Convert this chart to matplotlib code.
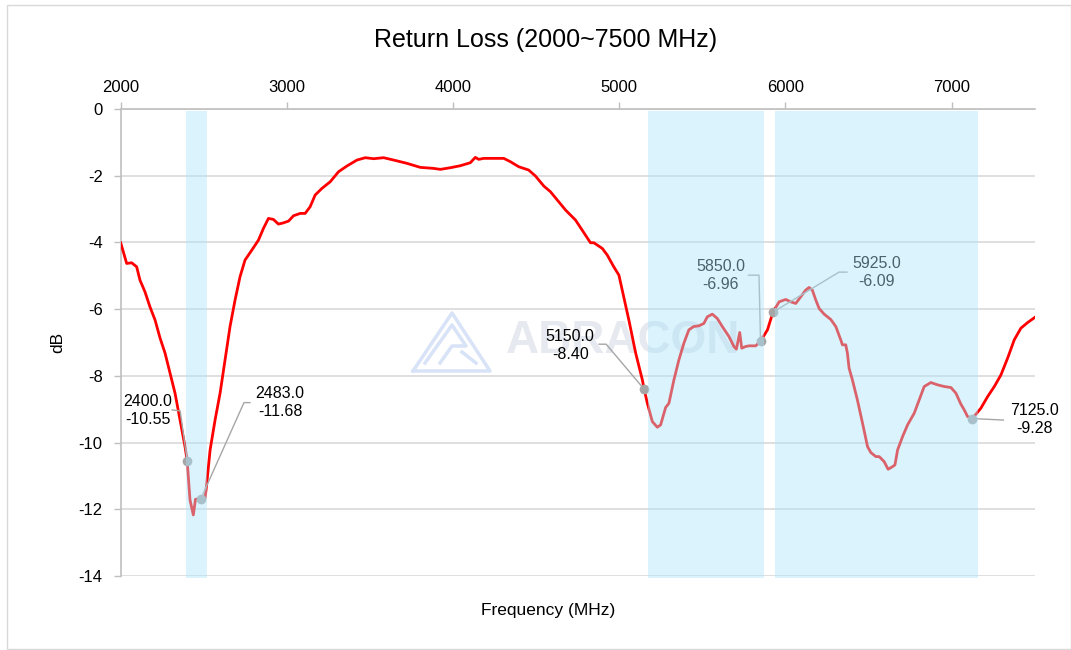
import matplotlib
matplotlib.use('Agg')
import matplotlib.pyplot as plt
from matplotlib.lines import Line2D
from matplotlib.patches import Rectangle
from matplotlib.transforms import IdentityTransform

plt.rcParams['font.family'] = ['Liberation Sans', 'DejaVu Sans']

# ---------------- data ----------------
freq_mhz = [2000, 2036, 2066, 2096, 2116, 2146, 2176, 2207, 2237, 2267, 2297, 2327,
            2357, 2387, 2400, 2417, 2437, 2450, 2483, 2508, 2518, 2538, 2568, 2598,
            2628, 2658, 2688, 2718, 2748, 2789, 2829, 2859, 2889, 2919, 2949, 2975,
            3010, 3040, 3080, 3110, 3140, 3170, 3211, 3261, 3311, 3361, 3422, 3472,
            3522, 3582, 3642, 3723, 3803, 3883, 3923, 3984, 4044, 4104, 4134, 4154,
            4184, 4245, 4305, 4345, 4395, 4455, 4496, 4546, 4586, 4627, 4677, 4737,
            4777, 4827, 4847, 4898, 4928, 4967, 4998, 5018, 5058, 5099, 5139, 5150,
            5169, 5199, 5229, 5249, 5279, 5299, 5329, 5359, 5389, 5419, 5449, 5479,
            5509, 5530, 5560, 5590, 5620, 5660, 5690, 5705, 5725, 5737, 5761, 5781,
            5821, 5850, 5892, 5925, 5962, 6002, 6032, 6062, 6092, 6122, 6142, 6162,
            6183, 6203, 6233, 6273, 6303, 6333, 6343, 6363, 6373, 6383, 6403, 6433,
            6464, 6494, 6514, 6544, 6564, 6594, 6618, 6645, 6659, 6675, 6705, 6735,
            6775, 6805, 6835, 6875, 6916, 6956, 6996, 7026, 7056, 7076, 7096, 7125,
            7176, 7217, 7257, 7297, 7337, 7377, 7417, 7458, 7500]
return_loss_db = [-4.01, -4.63, -4.61, -4.73, -5.13, -5.48, -5.93, -6.33, -6.87, -7.32, -7.92, -8.52,
                  -9.32, -10.12, -10.55, -11.72, -12.17, -11.70, -11.68, -11.66, -11.22, -10.22, -9.32, -8.52,
                  -7.52, -6.52, -5.73, -5.03, -4.53, -4.23, -3.93, -3.58, -3.28, -3.31, -3.45, -3.42,
                  -3.36, -3.20, -3.13, -3.13, -2.93, -2.58, -2.38, -2.18, -1.88, -1.71, -1.53, -1.46,
                  -1.49, -1.46, -1.53, -1.63, -1.75, -1.78, -1.81, -1.76, -1.70, -1.61, -1.45, -1.51,
                  -1.48, -1.48, -1.48, -1.58, -1.73, -1.83, -2.01, -2.31, -2.48, -2.73, -3.03, -3.33,
                  -3.63, -4.01, -4.01, -4.18, -4.38, -4.73, -4.98, -5.43, -6.33, -7.32, -8.12, -8.40,
                  -8.82, -9.37, -9.54, -9.47, -8.95, -8.82, -8.12, -7.52, -7.02, -6.62, -6.52, -6.50,
                  -6.43, -6.23, -6.15, -6.28, -6.52, -6.82, -7.12, -7.20, -6.70, -7.17, -7.12, -7.10,
                  -7.10, -6.96, -6.62, -6.09, -5.78, -5.71, -5.78, -5.83, -5.63, -5.43, -5.35, -5.43,
                  -5.73, -5.98, -6.15, -6.31, -6.52, -6.92, -7.07, -7.07, -7.32, -7.77, -8.12, -8.72,
                  -9.42, -10.12, -10.30, -10.42, -10.42, -10.57, -10.80, -10.72, -10.67, -10.22, -9.82, -9.47,
                  -9.12, -8.72, -8.32, -8.20, -8.27, -8.32, -8.35, -8.52, -8.85, -9.02, -9.22, -9.28,
                  -8.97, -8.62, -8.32, -7.97, -7.47, -6.92, -6.57, -6.40, -6.25]

marker_freqs = [2400, 2483, 5150, 5850, 5925, 7125]
marker_vals = [-10.55, -11.68, -8.40, -6.96, -6.09, -9.28]
marker_labels = ["2400.0\n-10.55", "2483.0\n-11.68", "5150.0\n-8.40",
                 "5850.0\n-6.96", "5925.0\n-6.09", "7125.0\n-9.28"]

bands = [(2393, 2519), (5173, 5869), (5937, 7157)]

x_ticks = [2000, 3000, 4000, 5000, 6000, 7000]
y_ticks = [0, -2, -4, -6, -8, -10, -12, -14]

title = "Return Loss (2000~7500 MHz)"
x_label = "Frequency (MHz)"
y_label = "dB"

# ---------------- layout (pixels) ----------------
W, H = 1071, 650
label_offsets = [(-39, -50), (79, -96), (-74, -44), (-40, -66), (104, -40), (62, 1)]
leader_paths = [[(-15, -51), (-7, -50)],
                [(49, -96), (43, -96)],
                [(-45, -45), (-38, -45)],
                [(-12, -66), (-1.5, -66)],
                [(74, -40), (66, -40)],
                [(31, 1.5)]]

fig = plt.figure(figsize=(W / 100, H / 100), dpi=100)
fig.patch.set_facecolor('white')
ax = fig.add_axes([120.7 / W, 1 - 576 / H, (1034.7 - 120.7) / W, (576 - 109) / H])
ax.set_xlim(2000, 7500)
ax.set_ylim(-14, 0)

ax.set_yticks(y_ticks)
ax.set_yticklabels([str(v) for v in y_ticks])
ax.set_xticks(x_ticks)
ax.set_xticklabels([str(v) for v in x_ticks])
ax.xaxis.tick_top()
ax.tick_params(axis='x', top=True, bottom=False, labeltop=True, labelbottom=False,
               length=5, width=1, color='#bfbfbf', labelsize=12, pad=5)
ax.tick_params(axis='y', length=5, width=1, color='#bfbfbf', labelsize=12, pad=8)
ax.grid(axis='y', color='#d9d9d9', lw=1.2)
ax.set_axisbelow(True)
for s in ['bottom', 'right']:
    ax.spines[s].set_visible(False)
for s in ['top', 'left']:
    ax.spines[s].set_color('#bfbfbf')
    ax.spines[s].set_linewidth(1.2)

ident = IdentityTransform()

# watermark
ax.text(623, H - 341, "ABRACON", transform=ident, fontsize=33, fontweight='bold',
        color='#e6e9ef', ha='center', va='center', zorder=1.5)
logo_paths = [[(413, 371), (452, 313), (490, 371), (413, 371)],
              [(425, 363), (452, 325), (466, 346), (452, 346), (440, 363)],
              [(462, 352), (476, 363)]]
for path in logo_paths:
    ax.add_line(Line2D([p[0] for p in path], [H - p[1] for p in path], transform=ident,
                       color='#d8e3f7', lw=2.5, zorder=1.5, clip_on=False))

# curve
ax.plot(freq_mhz, return_loss_db, color='#ff0000', lw=2.0, zorder=3,
        solid_joinstyle='round')

# markers, leaders, labels
ax.plot(marker_freqs, marker_vals, 'o', ms=7, color='#a6a6a6', mec='none', zorder=4)
fig.canvas.draw()
for f, v, lab, (dx, dy), path in zip(marker_freqs, marker_vals, marker_labels,
                                     label_offsets, leader_paths):
    px, py = ax.transData.transform((f, v))
    xs = [px + p[0] for p in path] + [px]
    ys = [py - p[1] for p in path] + [py]
    ax.add_line(Line2D(xs, ys, transform=ident, color='#a6a6a6', lw=1.0, zorder=3.5,
                       clip_on=False))
    ax.text(px + dx, py - dy, lab, transform=ident, fontsize=11.5, ha='center',
            va='center', linespacing=1.25, color='black', zorder=5)

# bands overlay
for a, b in bands:
    ax.axvspan(a, b, ymin=-0.004, ymax=0.996, color='#aae4f9', alpha=0.43, lw=0,
               zorder=10, clip_on=False)

# titles
fig.text(545.5 / W, 1 - 40 / H, title, fontsize=18, ha='center', va='center')
fig.text(548 / W, 1 - 611 / H, x_label, fontsize=12.5, ha='center', va='center')
fig.text(58 / W, 1 - 342 / H, y_label, fontsize=12.5, ha='center', va='center',
         rotation=90)

# outer frame
fig.add_artist(Rectangle((7 / W, 1 / H), (W - 7) / W, (H - 6) / H, transform=fig.transFigure,
                         fill=False, ec='#d9d9d9', lw=1.0))

fig.savefig('out.png', dpi=100)
